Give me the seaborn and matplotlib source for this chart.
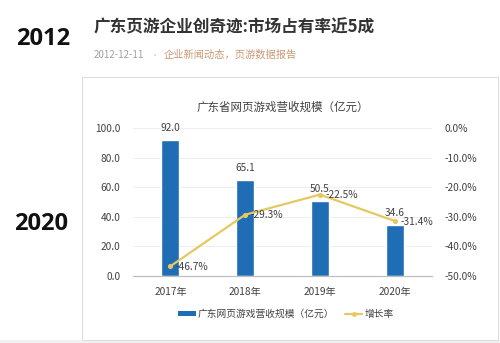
import matplotlib
matplotlib.use("Agg")
import matplotlib.pyplot as plt
import seaborn as sns
import pandas as pd
from matplotlib.patches import Rectangle, Patch
from matplotlib.lines import Line2D

years = ["2017年", "2018年", "2019年", "2020年"]
revenue = [92.0, 65.1, 50.5, 34.6]
growth = [-46.7, -29.3, -22.5, -31.4]
left_ticks = [0, 20, 40, 60, 80, 100]
right_ticks = [-50, -40, -30, -20, -10, 0]

headline = "广东页游企业创奇迹:市场占有率近5成"
date_text = "2012-12-11"
tags_text = "企业新闻动态，页游数据报告"
chart_title = "广东省网页游戏营收规模（亿元）"
bar_label = "广东网页游戏营收规模（亿元）"
line_label = "增长率"

sns.set_theme(style="white")
plt.rcParams["font.family"] = ["Noto Sans CJK SC", "DejaVu Sans"]

BLUE = "#1F6DB5"
YELLOW = "#E6C862"
W, H = 500, 343

df = pd.DataFrame({"year": years, "revenue": revenue, "growth": growth})

fig = plt.figure(figsize=(W / 100, H / 100), dpi=100)
fig.patch.set_facecolor("white")

def fx(x):
    return x / W

def fy(y):
    return 1 - y / H

# background strip & panel
fig.patches.append(Rectangle((0, 0), 1, fy(340), transform=fig.transFigure,
                             facecolor="#F1F1F1", edgecolor="none", zorder=-10))
fig.patches.append(Rectangle((fx(82), fy(340)), fx(498) - fx(82), fy(77) - fy(340),
                             transform=fig.transFigure, facecolor="white",
                             edgecolor="#DDDDDD", linewidth=0.8, zorder=-10))

# header texts
fig.text(fx(43), fy(39), "2012", family=["Open Sans", "DejaVu Sans"], weight="bold",
         fontsize=17, ha="center", va="center", color="#111111")
fig.text(fx(41), fy(224), "2020", family=["Open Sans", "DejaVu Sans"], weight="bold",
         fontsize=17, ha="center", va="center", color="#111111")
fig.text(fx(94), fy(27), headline, fontsize=12, weight="bold", ha="left", va="center",
         color="#333333")
fig.text(fx(94), fy(55), date_text, fontsize=7, ha="left", va="center", color="#A0A0A0")
fig.text(fx(155), fy(55), "•", fontsize=6, ha="center", va="center", color="#C8C8C8")
fig.text(fx(164), fy(55), tags_text, fontsize=7.4, ha="left", va="center", color="#C99A72")

# chart title
fig.text(fx(283), fy(107), chart_title, fontsize=8.3, ha="center", va="center", color="#404040")

ax = fig.add_axes([fx(133), fy(276), fx(432) - fx(133), fy(128) - fy(276)])
ax.set_facecolor("none")
sns.barplot(data=df, x="year", y="revenue", ax=ax, color=BLUE, saturation=1,
            width=0.24, zorder=3)
ax.set_ylim(0, 100)
ax.set_yticks(left_ticks)
ax.set_yticklabels([f"{v:.1f}" for v in left_ticks])
ax.yaxis.grid(True, color="#EEEEEE", linewidth=0.8)
ax.set_axisbelow(True)
for s in ["top", "right", "left"]:
    ax.spines[s].set_visible(False)
ax.spines["bottom"].set_color("#BFBFBF")
ax.spines["bottom"].set_linewidth(0.9)
ax.spines["bottom"].set_zorder(4)
ax.set_xlabel("")
ax.set_ylabel("")
ax.tick_params(axis="y", length=0, pad=9, labelsize=7.3, labelcolor="#404040")
ax.tick_params(axis="x", length=0, pad=8, labelsize=7.3, labelcolor="#404040")

for i, v in enumerate(revenue):
    ax.annotate(f"{v:.1f}", (i, v), xytext=(0, 8.5), textcoords="offset points",
                ha="center", va="center", fontsize=7.3, color="#404040", zorder=6)

ax2 = ax.twinx()
sns.pointplot(data=df, x="year", y="growth", ax=ax2, color=YELLOW, errorbar=None,
              markers="o", markersize=2.5, linewidth=1.6)
ax2.set_ylim(-50, 0)
ax2.set_yticks(right_ticks)
ax2.set_yticklabels([f"{v:.1f}%" for v in right_ticks])
for s in ["top", "right", "left", "bottom"]:
    ax2.spines[s].set_visible(False)
ax2.set_ylabel("")
ax2.set_xlabel("")
ax2.tick_params(axis="y", length=0, pad=9, labelsize=7.3, labelcolor="#404040")
ax.set_xlim(-0.5, 3.5)
ax2.set_xlim(-0.5, 3.5)

for i, v in enumerate(growth):
    ax2.annotate(f"{v:.1f}%", (i, v), xytext=(4, -0.5), textcoords="offset points",
                 ha="left", va="center", fontsize=7.3, color="#404040", zorder=6)

handles = [Patch(facecolor=BLUE, edgecolor="none"),
           Line2D([0], [0], color=YELLOW, linewidth=1.6, marker="o", markersize=2.5)]
fig.legend(handles, [bar_label, line_label], loc="center", bbox_to_anchor=(fx(286), fy(314)),
           ncol=2, frameon=False, fontsize=7.0, handlelength=1.8, handleheight=0.5,
           columnspacing=1.1, handletextpad=0.2, labelcolor="#404040")

fig.savefig("out.png", dpi=100, facecolor="white")
